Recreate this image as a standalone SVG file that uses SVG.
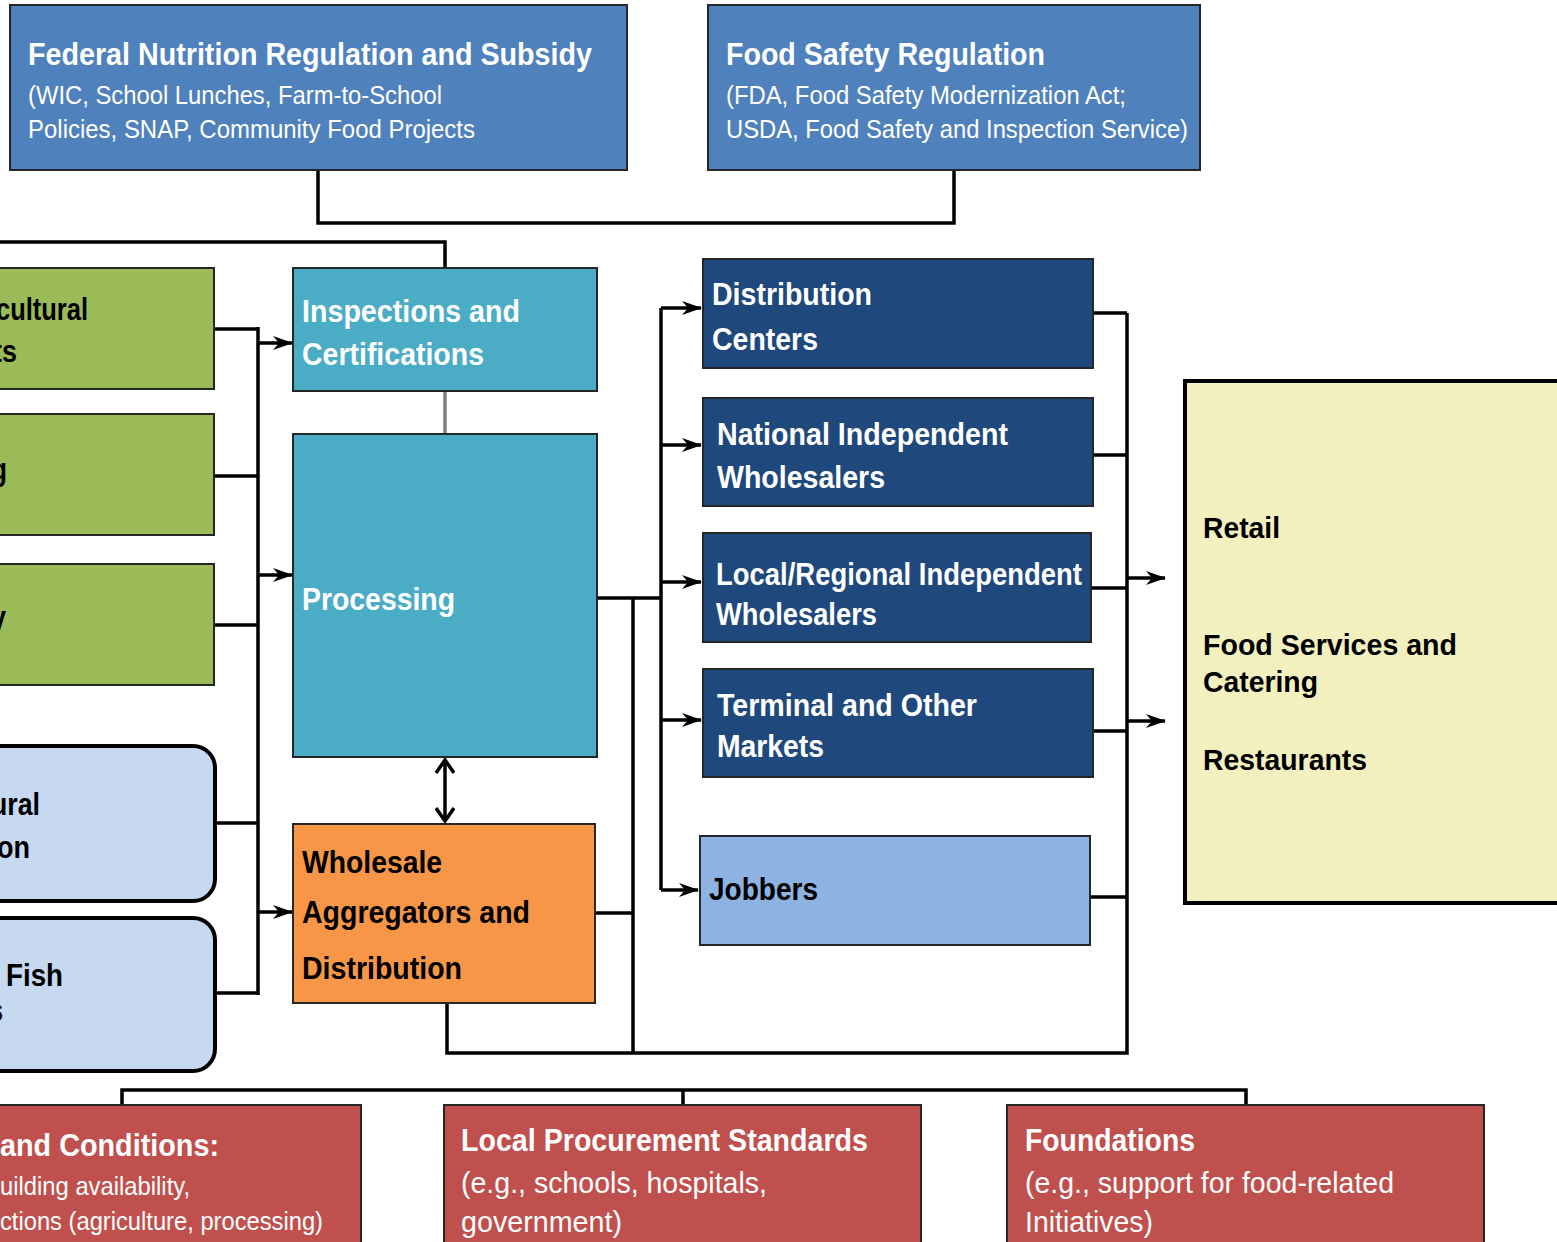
<svg xmlns="http://www.w3.org/2000/svg" width="1557" height="1242" viewBox="0 0 1557 1242">
<style>
.box{stroke:#262626;stroke-width:2}
.t{font-family:"Liberation Sans",Arial,sans-serif;font-weight:bold}
.w{fill:#ffffff}
.k{fill:#000000}
.n{font-weight:normal}
.ln{fill:none;stroke:#000;stroke-width:3.5}
</style>
<defs>
<marker id="arr" viewBox="0 0 20 14" refX="19" refY="7" markerWidth="20" markerHeight="14" markerUnits="userSpaceOnUse" orient="auto">
<path d="M0,0 L20,7 L0,14 L6,7 z" fill="#000"/>
</marker>
<marker id="chev" viewBox="0 0 16 20" refX="14" refY="10" markerWidth="16" markerHeight="20" markerUnits="userSpaceOnUse" orient="auto-start-reverse">
<path d="M1,1 L14,10 L1,19" fill="none" stroke="#000" stroke-width="3.5"/>
</marker>
</defs>
<rect width="1557" height="1242" fill="#ffffff"/>

<g id="connectors">
<path class="ln" d="M318,170 V223 H954 V170"/>
<path class="ln" d="M0,242 H445 V268"/>
<path class="ln" d="M214,329 H258 M214,476 H258 M214,625 H258 M214,823 H258 M214,993 H258 M258,327 V995"/>
<path class="ln" d="M258,343 H292" marker-end="url(#arr)"/>
<path class="ln" d="M258,575 H292" marker-end="url(#arr)"/>
<path class="ln" d="M258,912 H292" marker-end="url(#arr)"/>
<path d="M445,392 V434" stroke="#808080" stroke-width="3.5" fill="none"/>
<path class="ln" d="M445,760 V821" marker-start="url(#chev)" marker-end="url(#chev)"/>
<path class="ln" d="M597,598 H661" stroke-width="4.5"/>
<path class="ln" d="M661,308 V890"/>
<path class="ln" d="M661,308 H701" marker-end="url(#arr)"/>
<path class="ln" d="M661,445 H701" marker-end="url(#arr)"/>
<path class="ln" d="M661,582 H701" marker-end="url(#arr)"/>
<path class="ln" d="M661,720 H701" marker-end="url(#arr)"/>
<path class="ln" d="M661,890 H698" marker-end="url(#arr)"/>
<path class="ln" d="M633,598 V1053"/>
<path class="ln" d="M595,913 H633"/>
<path class="ln" d="M447,1003 V1053 H1127 V313"/>
<path class="ln" d="M1093,313 H1127 M1093,455 H1127 M1091,588 H1127 M1093,731 H1127 M1090,897 H1127"/>
<path class="ln" d="M1127,578 H1165" marker-end="url(#arr)"/>
<path class="ln" d="M1127,721 H1165" marker-end="url(#arr)"/>
<path class="ln" d="M122,1105 V1090 H1246 V1105 M683,1090 V1105"/>
</g>

<g id="federal">
<rect class="box" x="10" y="5" width="617" height="165" fill="#4f81bd"/>
<text class="t w" x="28" y="65" font-size="32" textLength="564" lengthAdjust="spacingAndGlyphs">Federal Nutrition Regulation and Subsidy</text>
<text class="t w n" x="28" y="104" font-size="25" textLength="414" lengthAdjust="spacingAndGlyphs">(WIC, School Lunches, Farm-to-School</text>
<text class="t w n" x="28" y="138" font-size="25" textLength="447" lengthAdjust="spacingAndGlyphs">Policies, SNAP, Community Food Projects</text>
</g>

<g id="foodsafety">
<rect class="box" x="708" y="5" width="492" height="165" fill="#4f81bd"/>
<text class="t w" x="726" y="65" font-size="32" textLength="319" lengthAdjust="spacingAndGlyphs">Food Safety Regulation</text>
<text class="t w n" x="726" y="104" font-size="25" textLength="400" lengthAdjust="spacingAndGlyphs">(FDA, Food Safety Modernization Act;</text>
<text class="t w n" x="726" y="138" font-size="25" textLength="462" lengthAdjust="spacingAndGlyphs">USDA, Food Safety and Inspection Service)</text>
</g>

<g id="green1">
<rect class="box" x="-10" y="268" width="224" height="121" fill="#9bbb59"/>
<text class="t k" x="-4" y="320" font-size="31" textLength="92" lengthAdjust="spacingAndGlyphs">cultural</text>
<text class="t k" x="-7" y="362" font-size="31" textLength="24" lengthAdjust="spacingAndGlyphs">ts</text>
</g>
<g id="green2">
<rect class="box" x="-10" y="414" width="224" height="121" fill="#9bbb59"/>
<text class="t k" x="-9" y="480" font-size="31" textLength="16" lengthAdjust="spacingAndGlyphs">g</text>
</g>
<g id="green3">
<rect class="box" x="-10" y="564" width="224" height="121" fill="#9bbb59"/>
<text class="t k" x="-9" y="628" font-size="31" textLength="15" lengthAdjust="spacingAndGlyphs">y</text>
</g>

<g id="blue1">
<rect x="-30" y="746" width="245" height="155" rx="22" fill="#c6d9f1" stroke="#000" stroke-width="4"/>
<text class="t k" x="-9" y="815" font-size="31" textLength="49" lengthAdjust="spacingAndGlyphs">ural</text>
<text class="t k" x="-3" y="858" font-size="31" textLength="33" lengthAdjust="spacingAndGlyphs">on</text>
</g>
<g id="blue2">
<rect x="-30" y="918" width="245" height="153" rx="22" fill="#c6d9f1" stroke="#000" stroke-width="4"/>
<text class="t k" x="6" y="986" font-size="31" textLength="57" lengthAdjust="spacingAndGlyphs">Fish</text>
<text class="t k" x="-10" y="1021" font-size="31" textLength="13" lengthAdjust="spacingAndGlyphs">s</text>
</g>

<g id="inspections">
<rect class="box" x="293" y="268" width="304" height="123" fill="#4bacc6"/>
<text class="t w" x="302" y="322" font-size="32" textLength="218" lengthAdjust="spacingAndGlyphs">Inspections and</text>
<text class="t w" x="302" y="365" font-size="32" textLength="182" lengthAdjust="spacingAndGlyphs">Certifications</text>
</g>

<g id="processing">
<rect class="box" x="293" y="434" width="304" height="323" fill="#4bacc6"/>
<text class="t w" x="302" y="610" font-size="32" textLength="153" lengthAdjust="spacingAndGlyphs">Processing</text>
</g>

<g id="wholesale">
<rect class="box" x="293" y="824" width="302" height="179" fill="#f79646"/>
<text class="t k" x="302" y="873" font-size="32" textLength="140" lengthAdjust="spacingAndGlyphs">Wholesale</text>
<text class="t k" x="302" y="923" font-size="32" textLength="228" lengthAdjust="spacingAndGlyphs">Aggregators and</text>
<text class="t k" x="302" y="979" font-size="32" textLength="160" lengthAdjust="spacingAndGlyphs">Distribution</text>
</g>

<g id="distribution">
<rect class="box" x="703" y="259" width="390" height="109" fill="#1f497d"/>
<text class="t w" x="712" y="305" font-size="32" textLength="160" lengthAdjust="spacingAndGlyphs">Distribution</text>
<text class="t w" x="712" y="350" font-size="32" textLength="106" lengthAdjust="spacingAndGlyphs">Centers</text>
</g>

<g id="national">
<rect class="box" x="703" y="398" width="390" height="108" fill="#1f497d"/>
<text class="t w" x="717" y="445" font-size="32" textLength="291" lengthAdjust="spacingAndGlyphs">National Independent</text>
<text class="t w" x="717" y="488" font-size="32" textLength="168" lengthAdjust="spacingAndGlyphs">Wholesalers</text>
</g>

<g id="local">
<rect class="box" x="703" y="533" width="388" height="109" fill="#1f497d"/>
<text class="t w" x="716" y="585" font-size="32" textLength="366" lengthAdjust="spacingAndGlyphs">Local/Regional Independent</text>
<text class="t w" x="716" y="625" font-size="32" textLength="161" lengthAdjust="spacingAndGlyphs">Wholesalers</text>
</g>

<g id="terminal">
<rect class="box" x="703" y="669" width="390" height="108" fill="#1f497d"/>
<text class="t w" x="717" y="716" font-size="32" textLength="260" lengthAdjust="spacingAndGlyphs">Terminal and Other</text>
<text class="t w" x="717" y="757" font-size="32" textLength="107" lengthAdjust="spacingAndGlyphs">Markets</text>
</g>

<g id="jobbers">
<rect class="box" x="700" y="836" width="390" height="109" fill="#8db3e2"/>
<text class="t k" x="709" y="900" font-size="32" textLength="109" lengthAdjust="spacingAndGlyphs">Jobbers</text>
</g>

<g id="retail">
<rect x="1185" y="381" width="390" height="522" fill="#f2f0bf" stroke="#000" stroke-width="4"/>
<text class="t k" x="1203" y="538" font-size="30" textLength="77" lengthAdjust="spacingAndGlyphs">Retail</text>
<text class="t k" x="1203" y="655" font-size="30" textLength="254" lengthAdjust="spacingAndGlyphs">Food Services and</text>
<text class="t k" x="1203" y="692" font-size="30" textLength="115" lengthAdjust="spacingAndGlyphs">Catering</text>
<text class="t k" x="1203" y="770" font-size="30" textLength="164" lengthAdjust="spacingAndGlyphs">Restaurants</text>
</g>

<g id="conditions">
<rect class="box" x="-10" y="1105" width="371" height="160" fill="#c0504d"/>
<text class="t w" x="0" y="1156" font-size="31" textLength="219" lengthAdjust="spacingAndGlyphs">and Conditions:</text>
<text class="t w n" x="0" y="1195" font-size="25" textLength="190" lengthAdjust="spacingAndGlyphs">uilding availability,</text>
<text class="t w n" x="0" y="1230" font-size="25" textLength="323" lengthAdjust="spacingAndGlyphs">ctions (agriculture, processing)</text>
</g>

<g id="procurement">
<rect class="box" x="444" y="1105" width="477" height="160" fill="#c0504d"/>
<text class="t w" x="461" y="1151" font-size="31" textLength="407" lengthAdjust="spacingAndGlyphs">Local Procurement Standards</text>
<text class="t w n" x="461" y="1193" font-size="29" textLength="306" lengthAdjust="spacingAndGlyphs">(e.g., schools, hospitals,</text>
<text class="t w n" x="461" y="1232" font-size="29" textLength="161" lengthAdjust="spacingAndGlyphs">government)</text>
</g>

<g id="foundations">
<rect class="box" x="1007" y="1105" width="477" height="160" fill="#c0504d"/>
<text class="t w" x="1025" y="1151" font-size="31" textLength="170" lengthAdjust="spacingAndGlyphs">Foundations</text>
<text class="t w n" x="1025" y="1193" font-size="29" textLength="369" lengthAdjust="spacingAndGlyphs">(e.g., support for food-related</text>
<text class="t w n" x="1025" y="1232" font-size="29" textLength="128" lengthAdjust="spacingAndGlyphs">Initiatives)</text>
</g>
</svg>
